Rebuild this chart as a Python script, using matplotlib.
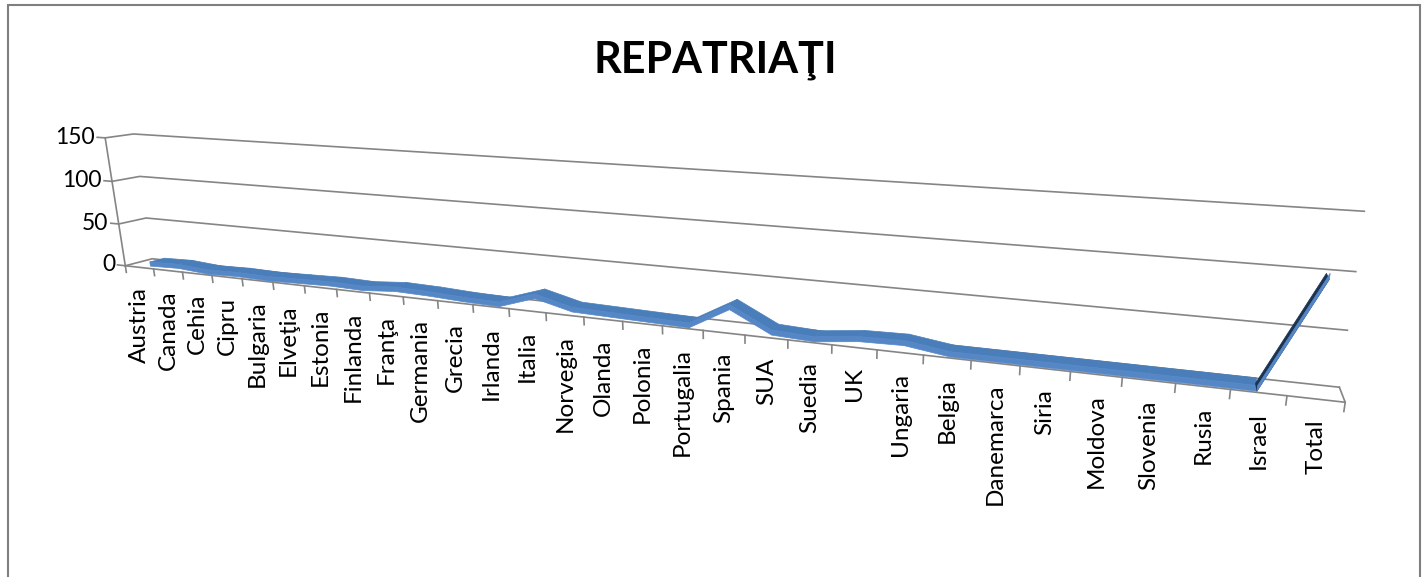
import matplotlib
matplotlib.use('Agg')
import matplotlib.pyplot as plt
import numpy as np
from matplotlib import transforms
from matplotlib.patches import Rectangle
from mpl_toolkits.mplot3d import proj3d
from mpl_toolkits.mplot3d.art3d import Poly3DCollection

countries = ['Austria', 'Canada', 'Cehia', 'Cipru', 'Bulgaria', 'Elveţia', 'Estonia',
             'Finlanda', 'Franţa', 'Germania', 'Grecia', 'Irlanda', 'Italia', 'Norvegia',
             'Olanda', 'Polonia', 'Portugalia', 'Spania', 'SUA', 'Suedia', 'UK', 'Ungaria',
             'Belgia', 'Danemarca', 'Siria', 'Moldova', 'Slovenia', 'Rusia', 'Israel', 'Total']
repatriati = [3, 4, 1, 2, 1, 2, 3, 2, 5, 4, 2, 1, 14, 4, 3, 2, 1, 24, 3, 1, 6, 7,
              1, 1, 1, 1, 1, 1, 1, 102]
y_ticks = [0, 50, 100, 150]

plt.rcParams['font.family'] = ['Lato', 'DejaVu Sans']
grid_color = '#858585'

fig = plt.figure(figsize=(14.24, 5.77), dpi=100)
W = 1722.7
ax = fig.add_axes([-83.6 / 1424, -588.6 / 577, W / 1424, W / 577],
                  projection='3d', computed_zorder=False)
ax.set_axis_off()
n = len(countries)
x_hi, z_lo = n * 38.3 / 30, -43.2
ax.set_xlim(0, x_hi, view_margin=0)
ax.set_ylim(0, 1, view_margin=0)
ax.set_zlim(z_lo, 150, view_margin=0)
ax.set_box_aspect((1.292, 0.0285, 0.1504))
elev_deg, azim_deg = 14.97, -71.4
ax.view_init(elev=elev_deg, azim=azim_deg, roll=-0.40)
ax.set_proj_type('persp', focal_length=0.1177)

# walls / floor / gridlines
for z in y_ticks:
    ax.plot([0, 0, n], [0, 1, 1], [z, z, z], color=grid_color, lw=1.2, zorder=1)
    ax.plot([-0.28, 0], [0, 0], [z, z], color=grid_color, lw=1.2, zorder=1)
ax.plot([0, n, n], [0, 0, 1], [0, 0, 0], color=grid_color, lw=1.2, zorder=1)
ax.plot([0, 0], [0, 0], [0, y_ticks[-1]], color=grid_color, lw=1.2, zorder=1)
for i in range(n + 1):
    ax.plot([i, i], [0, 0], [0, -8], color=grid_color, lw=1.2, zorder=1)

# ribbon (top face, or underside when the top faces away from the camera)
xs = np.arange(n) + 0.5
vals = np.array(repatriati, dtype=float)
y0, y1, th = 0.4, 0.95, 5
ratio = (0.1504 / (150 - z_lo)) / (1.292 / x_hi)
el, az = np.radians(elev_deg), np.radians(azim_deg)
view = np.array([np.cos(el) * np.cos(az), np.cos(el) * np.sin(az), np.sin(el)])
faces, colors = [], []
for i in range(n - 1):
    xa, xb, va, vb = xs[i], xs[i + 1], vals[i], vals[i + 1]
    s = (vb - va) * ratio / (xb - xa)
    if -s * view[0] + view[2] > 0:
        faces.append([(xa, y0, va), (xb, y0, vb), (xb, y1, vb), (xa, y1, va)])
        colors.append('#4A7EBB')
    else:
        faces.append([(xa, y0, va - th), (xb, y0, vb - th), (xb, y1, vb - th), (xa, y1, va - th)])
        colors.append('#1C3350')
    faces.append([(xa, y0, va), (xb, y0, vb), (xb, y0, vb - th), (xa, y0, va - th)])
    colors.append('#5587C6')
ribbon = Poly3DCollection(faces, facecolors=colors, edgecolors=colors, linewidths=0.5, zorder=3)
ax.add_collection3d(ribbon)

# labels
M = ax.get_proj()
px, py, _ = proj3d.proj_transform(xs, np.zeros(n), np.zeros(n), M)
lab_tr = transforms.offset_copy(ax.transData, fig=fig, x=0, y=-20, units='dots')
for cx, cy, name in zip(px, py, countries):
    ax.text2D(cx, cy, name, transform=lab_tr, rotation=90, ha='center', va='top',
              fontsize=17.5, color='black')
tx, ty, _ = proj3d.proj_transform(np.full(4, -0.36), np.zeros(4), np.array(y_ticks, float), M)
for cx, cy, t in zip(tx, ty, y_ticks):
    ax.text2D(cx, cy, str(t), transform=ax.transData, ha='right', va='center',
              fontsize=16.5, color='black')

fig.text(0.502, 1 - 73 / 577, 'REPATRIAŢI', ha='center', va='baseline',
         fontsize=31, fontweight='bold')
fig.add_artist(Rectangle((8 / 1424, -0.1), 1412 / 1424, 1.1 - 5 / 577,
                         transform=fig.transFigure, fill=False,
                         edgecolor='#7f7f7f', lw=1.5, zorder=5))

fig.savefig('out.png', dpi=100)
